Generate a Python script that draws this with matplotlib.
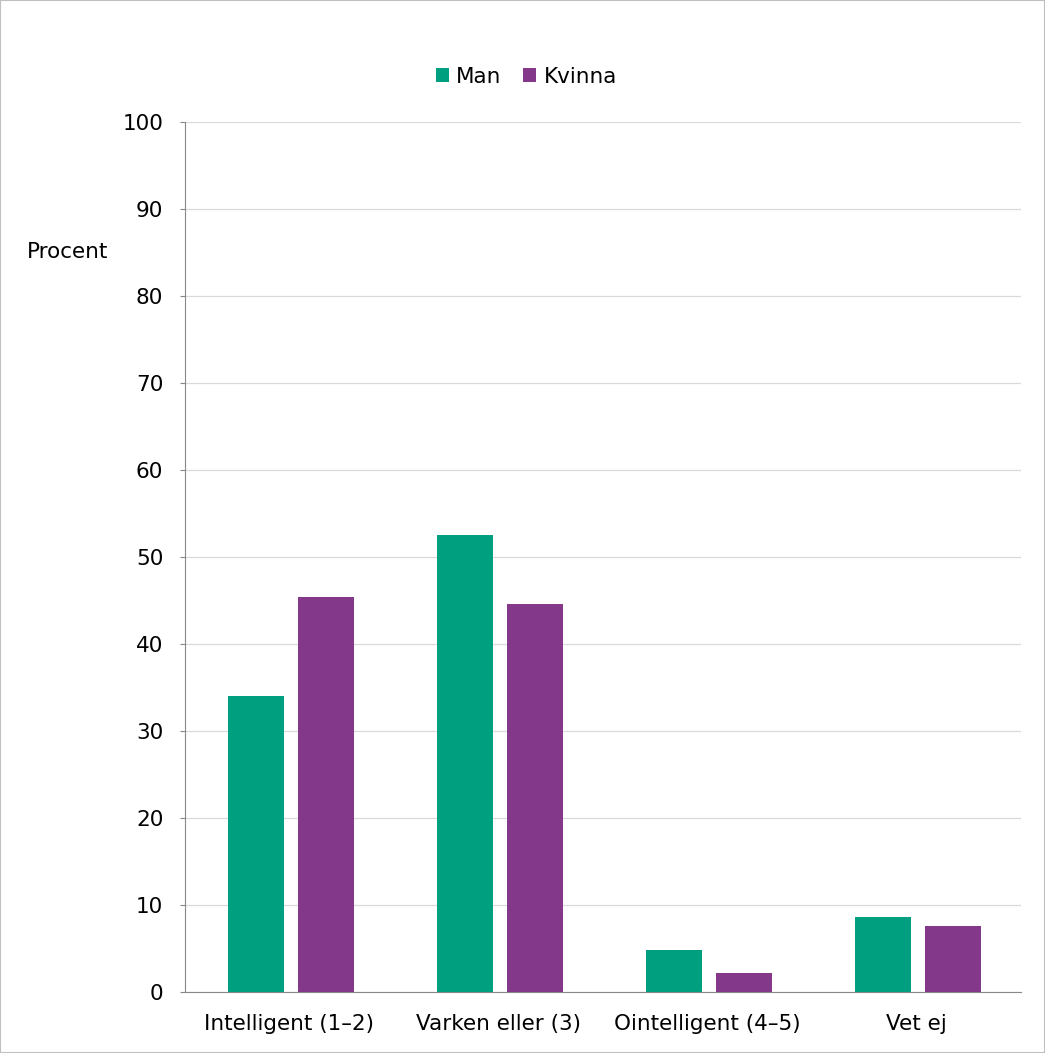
import numpy as np
import matplotlib.pyplot as plt

categories = ["Intelligent (1–2)", "Varken eller (3)", "Ointelligent (4–5)", "Vet ej"]
man = [34, 52.5, 4.8, 8.6]
kvinna = [45.4, 44.6, 2.2, 7.6]

green = "#009F7F"
purple = "#84388A"

plt.rcParams["font.family"] = ["DejaVu Sans"]

fig = plt.figure(figsize=(10.45, 10.53), dpi=100)
ax = fig.add_axes([0.177, 0.058, 0.8, 0.826])

x = np.arange(len(categories))
w = 0.268
ax.bar(x - 0.161, man, w, color=green, label="Man", zorder=3)
ax.bar(x + 0.175, kvinna, w, color=purple, label="Kvinna", zorder=3)

ax.set_xlim(-0.5, 3.5)
ax.set_ylim(0, 100)
ax.set_yticks(range(0, 101, 10))
ax.set_xticks(x)
ax.set_xticklabels(categories)
ax.tick_params(axis="x", length=0, pad=16, labelsize=15.5)
ax.tick_params(axis="y", length=3.6, color="#888888", pad=12, labelsize=15.5)
ax.grid(axis="y", color="#d9d9d9", linewidth=0.9, zorder=0)
for s in ["top", "right"]:
    ax.spines[s].set_visible(False)
ax.spines["left"].set_color("#888888")
ax.spines["bottom"].set_color("#888888")

fig.text(0.026, 0.761, "Procent", fontsize=15.5, va="center", ha="left")

ax.legend(loc="center", bbox_to_anchor=(0.4085, 1.052), ncol=2, frameon=False,
          fontsize=15.5, handlelength=0.6, handleheight=0.6, handletextpad=0.35,
          columnspacing=1.0)

fig.patches.append(plt.Rectangle((0, 0), 1, 1, transform=fig.transFigure,
                                 fill=False, edgecolor="#bfbfbf", linewidth=1.5))

fig.savefig("out.png", dpi=100)
